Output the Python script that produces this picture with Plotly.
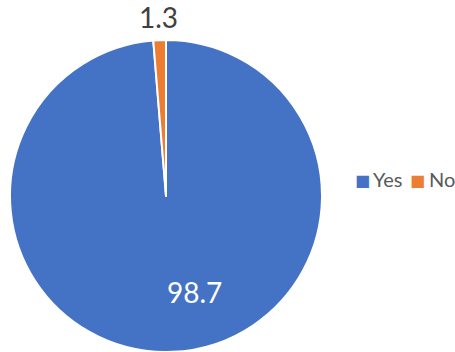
import plotly.graph_objects as go

labels = ["Yes", "No"]
values = [98.7, 1.3]
colors = ["#4472C4", "#ED7D31"]

W, H = 455, 352

def px(x, y):
    # reference pixel -> paper coords
    return x / W, 1 - y / H

x0, y0 = px(10, 40)
x1, y1 = px(322, 352)

fig = go.Figure(go.Pie(
    labels=labels,
    values=values,
    sort=False,
    direction="clockwise",
    rotation=0,
    marker=dict(colors=colors, line=dict(color="white", width=2)),
    textinfo="none",
    hoverinfo="label+value",
    showlegend=False,
    domain=dict(x=[x0, x1], y=[y1, y0]),
))

# data labels
for val, (x, y), col in [(values[0], (194.5, 292), "white"), (values[1], (158, 17), "#404040")]:
    ax, ay = px(x, y)
    fig.add_annotation(x=ax, y=ay, xref="paper", yref="paper", text=str(val),
                       xanchor="center", yanchor="middle",
                       showarrow=False, font=dict(color=col, size=28, family="Lato"))

# legend (built from labels / colors)
sq_x = [362.5, 417]
tx_x = [371, 427]
for lab, col, sx, tx in zip(labels, colors, sq_x, tx_x):
    ax, ay = px(sx, 180)
    fig.add_annotation(x=ax, y=ay, xref="paper", yref="paper", text="■",
                       xanchor="center", yanchor="middle",
                       showarrow=False, font=dict(color=col, size=16, family="DejaVu Sans"))
    ax, ay = px(tx, 179)
    fig.add_annotation(x=ax, y=ay, xref="paper", yref="paper", text=lab,
                       xanchor="left", yanchor="middle",
                       showarrow=False, font=dict(color="#595959", size=20, family="Lato"))

fig.update_layout(
    width=W, height=H,
    margin=dict(l=0, r=0, t=0, b=0),
    paper_bgcolor="white",
    font=dict(family="Lato", color="#595959"),
)

fig.write_html(
    "out.html",
    config={"displayModeBar": False},
    post_script="document.body.style.margin='0';document.body.style.overflow='hidden';",
)
